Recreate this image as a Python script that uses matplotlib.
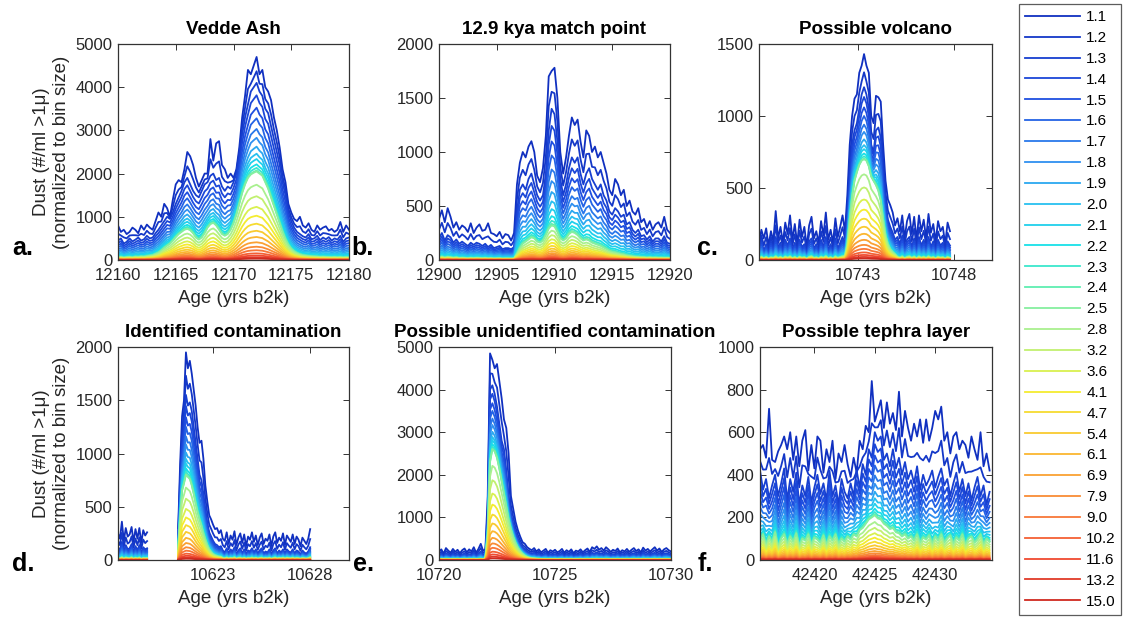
import numpy as np
import matplotlib.pyplot as plt
from matplotlib.colors import LinearSegmentedColormap
from matplotlib.lines import Line2D

plt.rcParams['font.family'] = ['Liberation Sans', 'DejaVu Sans']

# Particle size bins (micron)
bin_sizes = [1.1, 1.2, 1.3, 1.4, 1.5, 1.6, 1.7, 1.8, 1.9, 2.0, 2.1, 2.2, 2.3, 2.4, 2.5,
             2.8, 3.2, 3.6, 4.1, 4.7, 5.4, 6.1, 6.9, 7.9, 9.0, 10.2, 11.6, 13.2, 15.0]

# Each bin is built from three measured traces: the 1.1 um trace, the 1.3 um trace and the 2.5 um trace
w_fine1 = [1.0, 0.45] + [0.0] * 27
w_fine2 = [0.0, 0.55, 1.0, 0.85, 0.72, 0.60, 0.48, 0.38, 0.29, 0.21, 0.14, 0.08, 0.04, 0.015] + [0.0] * 15
w_coarse = [0.0, 0.0, 0.0, 0.16, 0.28, 0.40, 0.52, 0.62, 0.70, 0.78, 0.86, 0.92, 0.96, 0.98, 1.0,
            0.85, 0.72, 0.60, 0.50, 0.41, 0.33, 0.26, 0.20, 0.15, 0.11, 0.075, 0.05, 0.03, 0.015]

# a. Vedde Ash (0.25 yr steps from 12160)
fine1_a = [800, 650, 700, 600, 650, 750, 700, 620, 800, 700, 820, 750, 700, 900, 1100, 1000,
           1300, 1200, 1000, 1400, 1750, 1850, 1800, 2100, 2500, 2400, 2200, 1900, 1700, 1850, 2000, 2000,
           2800, 2300, 2700, 2750, 2200, 2100, 1900, 2000, 1900, 2100, 2600, 3300, 3800, 4400, 4300, 4500,
           4700, 4300, 4400, 4000, 3900, 3700, 3300, 3000, 2600, 2100, 1800, 1300, 1100, 950, 900, 1000,
           800, 750, 850, 700, 650, 800, 700, 750, 780, 680, 720, 650, 700, 880, 650, 800, 700]
fine2_a = [450, 500, 380, 420, 500, 430, 470, 520, 450, 480, 560, 500, 520, 620, 700, 800,
           900, 1000, 950, 1100, 1300, 1450, 1600, 1800, 1900, 1750, 1600, 1500, 1450, 1600, 1750, 1800,
           1950, 2000, 1850, 1900, 1700, 1600, 1700, 1650, 1800, 2000, 2400, 2900, 3300, 3600, 3900, 4000,
           4100, 3900, 3800, 3500, 3400, 3100, 2800, 2500, 2200, 1800, 1500, 1100, 900, 750, 650, 600,
           550, 520, 600, 480, 500, 560, 460, 520, 480, 530, 450, 500, 470, 560, 420, 500, 520]
coarse_a = [60, 70, 55, 65, 70, 60, 75, 70, 80, 75, 90, 100, 110, 140, 170, 220,
            280, 330, 380, 450, 530, 600, 650, 700, 720, 690, 620, 520, 470, 520, 620, 750,
            830, 860, 800, 700, 600, 560, 600, 700, 850, 1050, 1300, 1550, 1750, 1900, 1980, 2020,
            2050, 2000, 1950, 1800, 1650, 1450, 1250, 1050, 850, 650, 480, 350, 260, 200, 160, 130,
            110, 100, 90, 85, 80, 75, 70, 72, 68, 65, 62, 66, 60, 64, 58, 62, 60]

# b. 12.9 kya match point (0.25 yr steps from 12900)
fine1_b = [380, 460, 350, 480, 400, 300, 350, 280, 320, 300, 260, 340, 250, 300, 330, 270,
           280, 340, 250, 240, 220, 260, 200, 240, 230, 180, 250, 700, 900, 1000, 950, 1050,
           1100, 1000, 780, 720, 850, 1150, 1700, 1750, 1780, 1500, 1000, 800, 950, 1150, 1320, 1250,
           1300, 1100, 950, 1200, 1150, 1000, 1050, 950, 1000, 900, 800, 650, 600, 750, 700, 600,
           650, 500, 550, 450, 420, 480, 350, 380, 300, 360, 280, 330, 350, 300, 400, 280, 250]
fine2_b = [200, 250, 180, 230, 210, 160, 190, 150, 170, 150, 130, 160, 140, 160, 150, 130,
           150, 120, 140, 110, 120, 130, 100, 110, 110, 100, 120, 450, 650, 700, 650, 750,
           800, 700, 600, 550, 600, 800, 1200, 1400, 1350, 1100, 750, 600, 700, 850, 950, 900,
           950, 800, 700, 800, 850, 750, 700, 650, 700, 600, 550, 450, 420, 480, 450, 400,
           420, 330, 350, 280, 250, 280, 220, 230, 190, 220, 170, 200, 200, 170, 220, 160, 150]
coarse_b = [25, 30, 22, 28, 25, 20, 24, 18, 20, 18, 16, 19, 17, 19, 18, 16,
            18, 15, 17, 14, 15, 16, 13, 14, 14, 13, 15, 60, 110, 150, 170, 190,
            210, 200, 170, 160, 180, 230, 290, 320, 310, 260, 200, 180, 200, 240, 260, 250,
            230, 200, 180, 190, 180, 160, 150, 140, 130, 115, 100, 85, 75, 70, 62, 55,
            50, 42, 38, 34, 30, 28, 26, 25, 22, 24, 21, 22, 20, 21, 19, 20, 19]

# c. Possible volcano (0.125 yr steps from 10737.8)
fine1_c = [120, 210, 150, 220, 100, 200, 130, 340, 150, 230, 120, 260, 180, 310, 140, 250,
           110, 280, 160, 230, 90, 240, 300, 150, 200, 120, 270, 170, 330, 140, 210, 120,
           290, 160, 230, 310, 200, 450, 800, 1000, 1120, 1150, 1300, 1350, 1430, 1350, 1300, 1000,
           950, 1140, 1130, 1100, 800, 550, 420, 380, 330, 240, 290, 200, 310, 150, 270, 320,
           180, 300, 140, 310, 200, 280, 150, 320, 190, 250, 130, 270, 200, 230, 110, 260, 200]
fine2_c = [80, 140, 60, 110, 50, 130, 70, 160, 90, 120, 60, 140, 100, 150, 70, 120,
           60, 140, 90, 110, 50, 130, 150, 80, 110, 60, 140, 90, 160, 70, 110, 60,
           150, 80, 120, 160, 110, 300, 600, 800, 900, 950, 1050, 1150, 1200, 1150, 1050, 800,
           750, 900, 920, 850, 600, 400, 280, 230, 190, 140, 160, 110, 170, 80, 140, 160,
           90, 150, 70, 160, 100, 140, 80, 160, 90, 130, 60, 140, 100, 120, 60, 130, 100]
coarse_c = [15, 22, 12, 20, 10, 18, 14, 25, 13, 21, 11, 23, 16, 24, 12, 20,
            10, 22, 15, 19, 9, 21, 25, 14, 18, 11, 22, 15, 26, 12, 19, 10,
            24, 14, 20, 25, 30, 110, 280, 440, 550, 610, 660, 690, 700, 690, 650, 580,
            550, 520, 480, 410, 280, 170, 110, 75, 55, 40, 22, 16, 24, 12, 21, 25,
            15, 23, 11, 24, 16, 22, 13, 25, 15, 20, 10, 22, 16, 19, 9, 21, 14]

# d. Identified contamination (0.1 yr steps from 10618.1, gap with no data)
fine1_d = [250, 200, 360, 180, 300, 220, 240, 310, 170, 290, 200, 300, 160, 280, 230, 260,
           *[np.nan] * 15,
           300, 900, 1350, 1500, 1950, 1800, 1870, 1750, 1600, 1450, 1250, 1100, 1120, 950, 700, 550,
           420, 380, 330, 290, 300, 250, 280,
           200, 180, 260, 150, 230, 190, 270, 140, 210, 250, 160, 240, 130, 220, 190, 260,
           170, 230, 140, 210, 250, 150, 200, 180, 240, 130, 220, 260, 160, 210, 180, 250,
           140, 230, 200, 170, 240, 150, 220, 190, 130, 210, 180, 150, 200, 290]
fine2_d = [120, 90, 170, 80, 140, 100, 110, 150, 70, 130, 90, 140, 60, 120, 100, 110,
           *[np.nan] * 15,
           200, 700, 1100, 1300, 1550, 1450, 1480, 1400, 1250, 1100, 950, 800, 750, 620, 480, 350,
           260, 220, 180, 150, 140, 120, 130,
           90, 70, 110, 60, 100, 80, 120, 50, 90, 110, 60, 100, 50, 90, 80, 110,
           70, 100, 60, 90, 110, 60, 80, 70, 100, 50, 90, 110, 60, 90, 70, 100,
           60, 100, 80, 70, 100, 60, 90, 80, 50, 90, 70, 60, 80, 120]
coarse_d = [20, 15, 25, 12, 22, 18, 16, 24, 12, 20, 15, 22, 10, 18, 16, 17,
            *[np.nan] * 15,
            100, 400, 650, 720, 800, 780, 760, 700, 620, 530, 450, 380, 320, 250, 190, 140,
            100, 75, 55, 45, 38, 32, 30,
            18, 15, 22, 14, 20, 17, 24, 12, 19, 21, 14, 20, 12, 18, 16, 22,
            15, 20, 13, 18, 21, 14, 17, 15, 20, 12, 18, 22, 14, 19, 16, 21,
            13, 20, 17, 15, 21, 13, 18, 16, 12, 18, 15, 13, 17, 24]

# e. Possible unidentified contamination (0.1 yr steps from 10720)
fine1_e = [200, 250, 150, 280, 220, 170, 260, 190, 240, 160,
           230, 270, 180, 250, 200, 300, 170, 260, 380, 220,
           250, 1500, 4850, 4700, 4500, 4600, 4200, 3800, 3300, 3100,
           2500, 1500, 1200, 900, 700, 550, 420, 380, 300, 260,
           230, 280, 200, 250, 180, 220, 260, 170, 230, 200,
           240, 180, 210, 260, 170, 230, 190, 250, 160, 220,
           200, 250, 180, 230, 270, 190, 300, 260, 320, 240,
           280, 220, 300, 250, 190, 240, 210, 270, 180, 230,
           200, 260, 190, 240, 280, 210, 250, 180, 290, 220,
           260, 200, 250, 300, 220, 270, 190, 250, 280, 230, 200]
fine2_e = [120, 150, 90, 160, 130, 100, 150, 110, 140, 90,
           130, 150, 100, 140, 120, 170, 100, 150, 200, 130,
           150, 1000, 4000, 4100, 3900, 3600, 3200, 2800, 2600, 2100,
           1500, 1100, 850, 650, 500, 380, 300, 250, 200, 170,
           150, 170, 130, 150, 110, 130, 160, 100, 140, 120,
           140, 110, 130, 150, 100, 140, 110, 150, 100, 130,
           120, 150, 110, 140, 160, 110, 170, 150, 180, 140,
           160, 130, 170, 150, 110, 140, 120, 160, 110, 140,
           120, 150, 110, 140, 160, 120, 150, 110, 170, 130,
           150, 120, 150, 170, 130, 160, 110, 150, 160, 140, 120]
coarse_e = [18, 22, 15, 24, 19, 14, 21, 17, 23, 15,
            20, 24, 16, 22, 18, 25, 15, 21, 28, 19,
            40, 600, 2300, 2600, 2550, 2400, 2150, 1850, 1550, 1250,
            950, 720, 540, 400, 290, 210, 150, 105, 75, 55,
            45, 38, 32, 28, 25, 24, 22, 21, 20, 19,
            21, 16, 19, 23, 15, 20, 17, 22, 14, 19,
            18, 22, 16, 20, 24, 17, 26, 22, 27, 20,
            24, 19, 26, 21, 16, 20, 18, 23, 15, 19,
            17, 22, 16, 20, 24, 18, 21, 15, 25, 19,
            22, 17, 21, 26, 19, 23, 16, 21, 24, 20, 18]

# f. Possible tephra layer (0.25 yr steps from 42415.5)
fine1_f = [520, 540, 480, 710, 470, 460, 510, 540, 580, 520,
           600, 470, 580, 440, 560, 610, 420, 540, 430, 580,
           560, 410, 520, 460, 560, 380, 500, 460, 540, 450,
           390, 480, 410, 560, 520, 630, 600, 840, 650, 700,
           750, 620, 740, 640, 690, 610, 790, 580, 700, 620,
           560, 640, 580, 660, 550, 660, 560, 620, 700, 660,
           720, 560, 600, 500, 580, 600, 520, 560, 540, 480,
           580, 520, 470, 600, 440, 500, 420]
fine2_f = [420, 330, 380, 290, 350, 400, 300, 360, 430, 280,
           380, 320, 410, 260, 350, 300, 390, 270, 340, 400,
           310, 360, 280, 420, 300, 350, 260, 380, 320, 290,
           360, 300, 420, 340, 450, 400, 520, 480, 600, 560,
           580, 470, 500, 440, 520, 430, 480, 400, 460, 380,
           420, 360, 440, 330, 400, 350, 380, 420, 340, 390,
           430, 350, 380, 300, 360, 410, 320, 380, 300, 360,
           280, 340, 390, 300, 350, 260, 320]
coarse_f = [90, 120, 70, 110, 80, 130, 60, 100, 120, 75,
            110, 85, 125, 65, 100, 90, 120, 70, 105, 95,
            80, 115, 70, 110, 90, 120, 75, 100, 85, 110,
            95, 120, 110, 140, 150, 170, 190, 200, 210, 195,
            190, 170, 160, 145, 150, 130, 125, 110, 120, 100,
            110, 90, 120, 80, 105, 95, 115, 75, 110, 90,
            120, 80, 100, 115, 75, 105, 90, 120, 70, 100,
            110, 80, 95, 120, 70, 100, 85]


def ages(start, step, values):
    return start + step * np.arange(len(values))


cmap = LinearSegmentedColormap.from_list('dust', [
    (0 / 28, '#1030c0'), (4 / 28, '#1f4fe0'), (7 / 28, '#2f8ff0'), (9 / 28, '#28c0f0'),
    (11 / 28, '#18e0e8'), (13 / 28, '#60eeb0'), (15 / 28, '#a8f090'), (17 / 28, '#d8f050'),
    (18 / 28, '#f4ec30'), (21 / 28, '#fbb830'), (24 / 28, '#f87838'), (26 / 28, '#f04a30'),
    (28 / 28, '#d02a20')])
colors = [cmap(i / (len(bin_sizes) - 1)) for i in range(len(bin_sizes))]

W, H = 1126, 624
fig = plt.figure(figsize=(W / 100, H / 100), dpi=100)

panels = [
    ('Vedde Ash', 'a.', ages(12160, 0.25, fine1_a), fine1_a, fine2_a, coarse_a,
     (12160, 12180), [12160, 12165, 12170, 12175, 12180], 5000, 1000, (118, 44, 231, 216)),
    ('12.9 kya match point', 'b.', ages(12900, 0.25, fine1_b), fine1_b, fine2_b, coarse_b,
     (12900, 12920), [12900, 12905, 12910, 12915, 12920], 2000, 500, (439, 44, 231, 216)),
    ('Possible volcano', 'c.', ages(10737.8, 0.125, fine1_c), fine1_c, fine2_c, coarse_c,
     (10737.8, 10750.0), [10743, 10748], 1500, 500, (759, 44, 233, 216)),
    ('Identified contamination', 'd.', ages(10618.1, 0.1, fine1_d), fine1_d, fine2_d, coarse_d,
     (10618.1, 10630.0), [10623, 10628], 2000, 500, (118, 347, 231, 213)),
    ('Possible unidentified contamination', 'e.', ages(10720, 0.1, fine1_e), fine1_e, fine2_e, coarse_e,
     (10720, 10730), [10720, 10725, 10730], 5000, 1000, (439, 347, 232, 213)),
    ('Possible tephra layer', 'f.', ages(42415.5, 0.25, fine1_f), fine1_f, fine2_f, coarse_f,
     (42415.5, 42434.7), [42420, 42425, 42430], 1000, 200, (760, 347, 232, 213)),
]
letter_pos = [(12, 255), (351, 255), (697, 255), (12, 571), (353, 571), (698, 571)]

edge = '#333333'
for k, (title, letter, x, f1, f2, co, xlim, xticks, ymax, ystep, box) in enumerate(panels):
    l, t, w, h = box
    ax = fig.add_axes([l / W, 1 - (t + h) / H, w / W, h / H])
    f1, f2, co = np.array(f1, float), np.array(f2, float), np.array(co, float)
    for i in range(len(bin_sizes)):
        y = w_fine1[i] * f1 + w_fine2[i] * f2 + w_coarse[i] * co
        ax.plot(x, y, color=colors[i], lw=1.3)
    ax.set_xlim(*xlim)
    ax.set_ylim(0, ymax)
    ax.set_xticks(xticks)
    ax.set_yticks(np.arange(0, ymax + 1, ystep))
    ax.xaxis.set_major_formatter(plt.FormatStrFormatter('%d'))
    ax.tick_params(direction='in', top=True, right=True, length=4, width=0.7,
                   labelsize=12, colors=edge, labelcolor='#262626', pad=4)
    ax.tick_params(axis='x', pad=5.5)
    for sp in ax.spines.values():
        sp.set_color(edge)
        sp.set_linewidth(0.9)
    ax.set_title(title, fontsize=13.5, fontweight='bold', pad=7)
    ax.set_xlabel('Age (yrs b2k)', fontsize=13.5, color='#262626', labelpad=5)
    if k in (0, 3):
        ax.set_ylabel('Dust (#/ml >1μ)\n(normalized to bin size)', fontsize=13.5,
                      color='#262626', labelpad=4)
    lx, ly = letter_pos[k]
    fig.text(lx / W, 1 - ly / H, letter, fontsize=18, fontweight='bold', va='baseline')

# Size-bin legend on the right
lax = fig.add_axes([1019 / W, 9 / H, 102 / W, 611 / H])
lax.axis('off')
handles = [Line2D([], [], color=c, lw=1.3) for c in colors]
labels = ['%.1f' % s for s in bin_sizes]
leg = lax.legend(handles, labels, loc='upper left', bbox_to_anchor=(0, 0, 1, 1), mode='expand',
                 borderaxespad=0, frameon=True, fancybox=False, fontsize=11,
                 handlelength=3.6, handletextpad=0.4, labelspacing=0.45, borderpad=0.4)
leg.get_frame().set_edgecolor(edge)
leg.get_frame().set_linewidth(0.9)

fig.savefig('out.png', dpi=100)
